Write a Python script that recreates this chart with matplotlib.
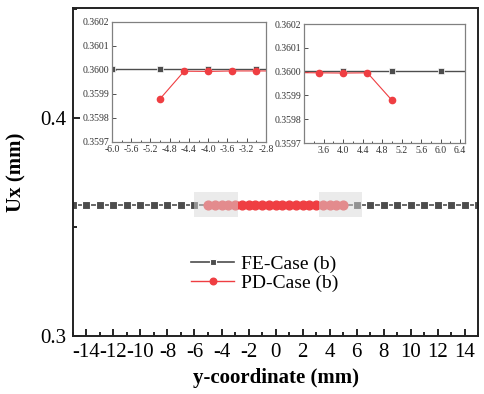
import numpy as np
import matplotlib
matplotlib.use("Agg")
import matplotlib.pyplot as plt
from matplotlib.patches import Rectangle
from matplotlib.ticker import MultipleLocator, FixedLocator, FormatStrFormatter

plt.rcParams['font.family'] = ['Liberation Serif', 'DejaVu Serif']
plt.rcParams['axes.unicode_minus'] = False

# FE result: one node per mm
fe_y = [-15, -14, -13, -12, -11, -10, -9, -8, -7, -6, -5, -4, -3, -2, -1, 0,
        1, 2, 3, 4, 5, 6, 7, 8, 9, 10, 11, 12, 13, 14, 15]
fe_ux = [0.360003] * len(fe_y)

# PD result: nodes every 0.5 mm
pd_y = [-5.0, -4.5, -4.0, -3.5, -3.0, -2.5, -2.0, -1.5, -1.0, -0.5, 0.0,
        0.5, 1.0, 1.5, 2.0, 2.5, 3.0, 3.5, 4.0, 4.5, 5.0]
pd_ux = [0.35988, 0.359995, 0.359994, 0.359996, 0.359996, 0.359996, 0.359996,
         0.359996, 0.359996, 0.359996, 0.359996, 0.359996, 0.359996, 0.359996,
         0.359996, 0.359996, 0.359996, 0.359995, 0.359994, 0.359995, 0.35988]

zoom_ranges = [(-6.0, -2.8), (3.2, 6.4)]

fe_col = '#4d4d4d'
pd_col = '#ef3e42'

fig = plt.figure(figsize=(4.85, 3.94), dpi=100)
ax = fig.add_axes([0.1505, 0.1472, 0.8351, 0.8325])

ax.plot(fe_y, fe_ux, color=fe_col, lw=1.2, marker='s', ms=6,
        mfc=fe_col, mec='white', mew=0.8, label='FE-Case (b)')
ax.plot(pd_y, pd_ux, color=pd_col, lw=1.0, marker='o', ms=6.3,
        mfc=pd_col, mec=pd_col, label='PD-Case (b)')

for x0, x1 in zoom_ranges:
    ax.add_patch(Rectangle((x0, 0.3545), x1 - x0, 0.0115, facecolor='#d8d8d8',
                           alpha=0.5, edgecolor='none', zorder=5))

ax.set_xlim(-15, 15)
ax.set_ylim(0.3, 0.4505)
ax.xaxis.set_major_locator(MultipleLocator(2))
ax.xaxis.set_minor_locator(MultipleLocator(1))
ax.yaxis.set_major_locator(MultipleLocator(0.1))
ax.yaxis.set_minor_locator(MultipleLocator(0.05))
ax.yaxis.set_major_formatter(FormatStrFormatter('%.1f'))
ax.tick_params(which='both', direction='in', labelsize=15, pad=5)
ax.tick_params(which='major', length=5, width=1.2)
ax.tick_params(which='minor', length=3, width=1.2)
for s in ax.spines.values():
    s.set_linewidth(1.4)
    s.set_color('#222222')
ax.set_xlabel('y-coordinate (mm)', fontsize=15, fontweight='bold', labelpad=4)
ax.set_ylabel('Ux (mm)', fontsize=15, fontweight='bold', labelpad=10)

ax.legend(loc='center left', bbox_to_anchor=(0.268, 0.19), frameon=False,
          fontsize=14, handlelength=2.2, handletextpad=0.35, labelspacing=0.05,
          borderpad=0, markerscale=0.75)

inset_pos = [[0.2309, 0.6396, 0.3175, 0.3046], [0.6268, 0.637, 0.332, 0.302]]
inset_xlims = [(-6.0, -2.8), (3.2, 6.5)]
inset_ticks = [[-6.0, -5.6, -5.2, -4.8, -4.4, -4.0, -3.6, -3.2, -2.8],
               [3.6, 4.0, 4.4, 4.8, 5.2, 5.6, 6.0, 6.4]]
for pos, xl, tk in zip(inset_pos, inset_xlims, inset_ticks):
    ins = fig.add_axes(pos)
    ins.plot(fe_y, fe_ux, color=fe_col, lw=1.0, marker='s', ms=4,
             mfc=fe_col, mec='white', mew=0.5)
    ins.plot(pd_y, pd_ux, color=pd_col, lw=0.8, marker='o', ms=4.5,
             mfc=pd_col, mec=pd_col)
    ins.set_xlim(*xl)
    ins.set_ylim(0.3597, 0.3602)
    ins.xaxis.set_major_locator(FixedLocator(tk))
    ins.xaxis.set_minor_locator(MultipleLocator(0.2))
    ins.yaxis.set_major_locator(MultipleLocator(0.0001))
    ins.xaxis.set_major_formatter(FormatStrFormatter('%.1f'))
    ins.yaxis.set_major_formatter(FormatStrFormatter('%.4f'))
    ins.tick_params(which='both', direction='in', labelsize=7, pad=2,
                    width=0.6, colors='#333333')
    ins.tick_params(which='major', length=3)
    ins.tick_params(which='minor', length=1.5)
    for s in ins.spines.values():
        s.set_linewidth(0.9)
        s.set_color('#808080')

fig.savefig('out.png', dpi=100)
